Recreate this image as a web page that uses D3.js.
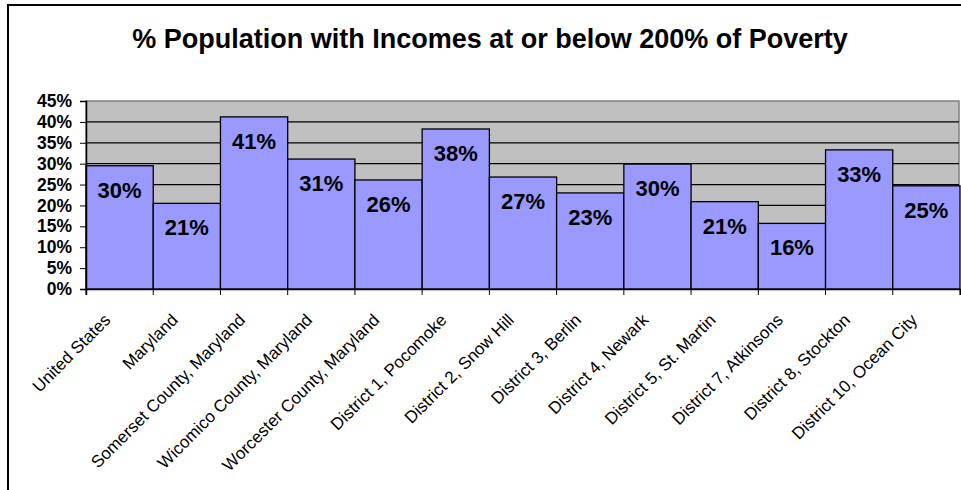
<!DOCTYPE html>
<html>
<head>
<meta charset="utf-8">
<title>% Population with Incomes at or below 200% of Poverty</title>
<script src="https://cdn.jsdelivr.net/npm/d3@7/dist/d3.min.js"></script>
<style>
    body { margin: 0; background: #fff; }
    svg text { font-family: Arial, "Liberation Sans", sans-serif; fill: #000; }
</style>
</head>
<body>
<script>
    var width = 961,
        height = 490,
        plotLeft = 86,
        plotRight = 960,
        plotTop = 101,
        plotBottom = 289;

    var places = ["United States", "Maryland", "Somerset County, Maryland",
        "Wicomico County, Maryland", "Worcester County, Maryland",
        "District 1, Pocomoke", "District 2, Snow Hill", "District 3, Berlin",
        "District 4, Newark", "District 5, St. Martin", "District 7, Atkinsons",
        "District 8, Stockton", "District 10, Ocean City"];
    var percents = [29.5, 20.5, 41.2, 31.1, 26.1, 38.3, 26.8, 23.0, 29.9, 20.9, 15.7, 33.3, 24.7];
    var yTicks = [0, 5, 10, 15, 20, 25, 30, 35, 40, 45];

    var data = places.map(function(p, i){ return {name: p, value: percents[i]}; });

    var x = d3.scaleBand()
        .domain(places)
        .range([plotLeft, plotRight])
        .padding(0);
    var y = d3.scaleLinear()
        .domain([0, 45])
        .range([plotBottom, plotTop]);

    var svg = d3.select("body").append("svg")
        .attr("width", width)
        .attr("height", height);

    // outer chart frame
    svg.append("rect")
        .attr("x", 8).attr("y", 5)
        .attr("width", 980).attr("height", 520)
        .attr("fill", "#fff")
        .attr("stroke", "#000")
        .attr("stroke-width", 2);

    svg.append("text")
        .attr("x", 490)
        .attr("y", 48)
        .attr("text-anchor", "middle")
        .style("font-size", "27px")
        .style("font-weight", "bold")
        .text("% Population with Incomes at or below 200% of Poverty");

    // plot area
    svg.append("rect")
        .attr("x", plotLeft).attr("y", plotTop)
        .attr("width", plotRight - plotLeft - 1)
        .attr("height", plotBottom - plotTop)
        .attr("fill", "#c0c0c0")
        .attr("stroke", "#808080")
        .attr("stroke-width", 1.5);

    svg.append("g").selectAll("line.grid")
        .data(yTicks.slice(1, -1))
      .enter().append("line")
        .attr("class", "grid")
        .attr("x1", plotLeft).attr("x2", plotRight - 1)
        .attr("y1", function(d){ return y(d); })
        .attr("y2", function(d){ return y(d); })
        .attr("stroke", "#000")
        .attr("stroke-width", 1.2);

    svg.append("g").selectAll("rect.bar")
        .data(data)
      .enter().append("rect")
        .attr("class", "bar")
        .attr("x", function(d){ return x(d.name); })
        .attr("y", function(d){ return y(d.value); })
        .attr("width", x.bandwidth())
        .attr("height", function(d){ return plotBottom - y(d.value); })
        .attr("fill", "#9999ff")
        .attr("stroke", "#000")
        .attr("stroke-width", 1.3);

    svg.append("g").selectAll("text.val")
        .data(data)
      .enter().append("text")
        .attr("class", "val")
        .attr("x", function(d){ return x(d.name) + x.bandwidth() / 2; })
        .attr("y", function(d){ return y(d.value) + 32; })
        .attr("text-anchor", "middle")
        .style("font-size", "22px")
        .style("font-weight", "bold")
        .text(function(d){ return Math.round(d.value) + "%"; });

    var yAxis = d3.axisLeft(y)
        .tickValues(yTicks)
        .tickSize(6)
        .tickFormat(function(d){ return d + "%"; });
    var gy = svg.append("g")
        .attr("transform", "translate(" + plotLeft + ",0)")
        .call(yAxis);
    gy.select(".domain").attr("stroke", "#000").attr("stroke-width", 1.5);
    gy.selectAll("text")
        .attr("x", -14)
        .style("font-size", "17.5px")
        .style("font-weight", "bold")
        .style("font-family", "Arial, 'Liberation Sans', sans-serif");

    var xAxis = d3.axisBottom(x)
        .tickSize(6)
        .tickFormat("");
    var gx = svg.append("g")
        .attr("transform", "translate(0," + plotBottom + ")")
        .call(xAxis);
    gx.select(".domain").attr("stroke", "#000").attr("stroke-width", 1.5);
    // ticks sit on category boundaries
    gx.selectAll(".tick").remove();
    gx.selectAll("line.bound")
        .data(places.concat([null]))
      .enter().append("line")
        .attr("class", "bound")
        .attr("x1", function(d, i){ return plotLeft + i * x.step(); })
        .attr("x2", function(d, i){ return plotLeft + i * x.step(); })
        .attr("y1", 0).attr("y2", 6)
        .attr("stroke", "#000");

    svg.append("g").selectAll("text.cat")
        .data(places)
      .enter().append("text")
        .attr("class", "cat")
        .attr("text-anchor", "end")
        .attr("transform", function(d){
            return "translate(" + (x(d) + x.bandwidth() / 2 - 8) + "," + 321 + ") rotate(-45)";
        })
        .style("font-size", "17px")
        .text(function(d){ return d; });
</script>
</body>
</html>
